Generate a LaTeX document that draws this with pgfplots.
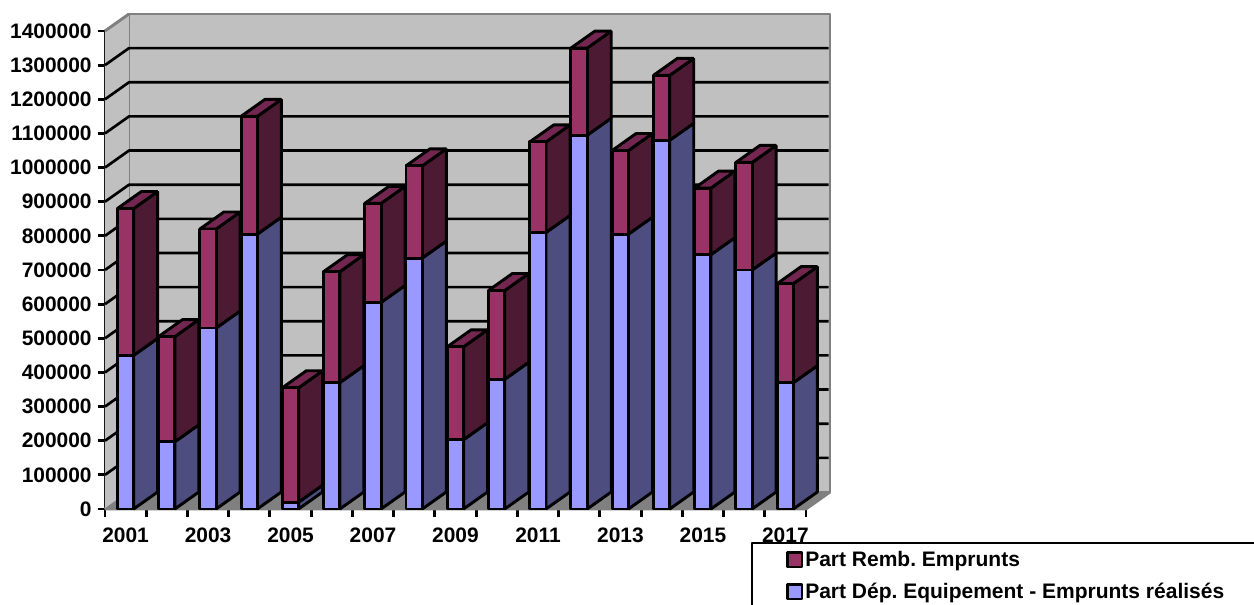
\documentclass[border=0pt]{standalone}
\usepackage{fontspec}
\setmainfont{Liberation Sans}
\usepackage{pgfplots}
\usepackage{pgfplotstable}
\pgfplotsset{compat=1.18}
\frenchspacing

% index, top of lower part, top of stack
\pgfplotstableread{
idx low total
0 450000 880000
1 197000 505000
2 530000 820000
3 805000 1150000
4 20000 355000
5 370000 695000
6 605000 895000
7 735000 1005000
8 203000 475000
9 380000 640000
10 810000 1075000
11 1095000 1350000
12 805000 1050000
13 1080000 1270000
14 745000 940000
15 700000 1015000
16 370000 660000
}\bardata

\definecolor{wall}{HTML}{C0C0C0}
\definecolor{edge}{HTML}{808080}
\definecolor{loF}{HTML}{9999FF}
\definecolor{loS}{HTML}{4D4D80}
\definecolor{upF}{HTML}{993366}
\definecolor{upS}{HTML}{4D1A33}
\definecolor{upT}{HTML}{732650}

\def\depthx{0.582}
\def\depthy{49800}

\begin{document}
\begin{tikzpicture}[x=1pt,y=1pt,line join=bevel]
\clip (0,0) rectangle (940.5,453.75);
\begin{axis}[
  at={(78.75pt,72pt)}, anchor=origin,
  scale only axis, width=525.75pt, height=358.5pt,
  xmin=0, xmax=17, ymin=0, ymax=1400000,
  clip=false,
  axis lines=left,
  axis line style={-, black, line width=2.2pt},
  tick align=outside,
  tick style={black, line width=2.2pt},
  major tick length=5.5pt,
  minor tick length=6pt,
  xtick={0.5,2.5,4.5,6.5,8.5,10.5,12.5,14.5,16.5},
  xticklabels={2001,2003,2005,2007,2009,2011,2013,2015,2017},
  minor xtick={0,1,2,3,4,5,6,7,8,9,10,11,12,13,14,15,16,17},
  x tick style={draw=none},
  minor x tick style={draw=black, line width=2.2pt},
  ytick={0,100000,200000,300000,400000,500000,600000,700000,800000,900000,1000000,1100000,1200000,1300000,1400000},
  scaled y ticks=false,
  tick label style={font=\fontsize{15.7}{18}\selectfont\bfseries},
  /pgf/number format/assume math mode=true,
  yticklabel style={/pgf/number format/fixed,/pgf/number format/1000 sep={},xshift=-1pt},
  xticklabel style={yshift=-5pt},
  legend style={at={(axis cs:16.52,-99590)}, anchor=north west, draw=none, fill=none,
    font=\fontsize{15.75}{18}\selectfont\bfseries, row sep=7pt, inner xsep=0pt, inner ysep=4pt,
    nodes={inner xsep=1.5pt}},
  legend cell align=left,
]
% floor and the two walls
\addplot[forget plot, draw=edge, line width=2.2pt, fill=edge] coordinates {(0,0) (\depthx,\depthy) (17.582,\depthy) (17,0)} -- cycle;
\addplot[forget plot, draw=edge, line width=2.2pt, fill=wall] coordinates {(\depthx,\depthy) (\depthx,1449800) (17.582,1449800) (17.582,\depthy)} -- cycle;
\addplot[forget plot, draw=none, fill=wall] coordinates {(0,0) (0,1400000) (\depthx,1449800) (\depthx,\depthy)} -- cycle;
\addplot[forget plot, draw=edge, line width=2.2pt] coordinates {(0,1400000) (\depthx,1449800)};
\addplot[forget plot, draw=edge, line width=1pt] coordinates {(0,0) (\depthx,\depthy)};
% gridlines on side wall and back wall
\pgfplotsinvokeforeach{1,...,13}{
  \edef\cmd{\noexpand\addplot[forget plot, black, line width=2pt] coordinates {
    (0,\the\numexpr#1*100000\relax)
    (\depthx,\the\numexpr#1*100000+\depthy\relax)
    (17.55,\the\numexpr#1*100000+\depthy\relax)};}
  \cmd
}
% stacked columns, front, side and top faces
\pgfplotsinvokeforeach{0,...,16}{
  \pgfplotstablegetelem{#1}{low}\of\bardata \let\lo\pgfplotsretval
  \pgfplotstablegetelem{#1}{total}\of\bardata \let\hi\pgfplotsretval
  \pgfmathsetmacro\xa{#1+0.30}
  \pgfmathsetmacro\xb{#1+0.695}
  \pgfmathsetmacro\xc{#1+0.695+\depthx}
  \pgfmathsetmacro\xd{#1+0.30+\depthx}
  \edef\loD{\the\numexpr\lo+\depthy\relax}
  \edef\hiD{\the\numexpr\hi+\depthy\relax}
  \edef\cmd{%
    \noexpand\addplot[forget plot, draw=black, line width=2.2pt, fill=loS] coordinates {(\xb,0) (\xc,\depthy) (\xc,\loD) (\xb,\lo)} -- cycle;
    \noexpand\addplot[forget plot, draw=black, line width=2.2pt, fill=upS] coordinates {(\xb,\lo) (\xc,\loD) (\xc,\hiD) (\xb,\hi)} -- cycle;
    \noexpand\addplot[forget plot, draw=black, line width=2.2pt, fill=upT] coordinates {(\xa,\hi) (\xd,\hiD) (\xc,\hiD) (\xb,\hi)} -- cycle;
    \noexpand\addplot[forget plot, draw=black, line width=2.2pt, fill=loF] coordinates {(\xa,0) (\xa,\lo) (\xb,\lo) (\xb,0)} -- cycle;
    \noexpand\addplot[forget plot, draw=black, line width=2.2pt, fill=upF] coordinates {(\xa,\lo) (\xa,\hi) (\xb,\hi) (\xb,\lo)} -- cycle;
  }
  \cmd
}
% legend frame runs past the picture edge
\addplot[forget plot, black, line width=1.6pt] coordinates {(15.69,-300000) (15.69,-99590) (40,-99590)};
\addlegendimage{legend image code/.code={\draw[black, line width=1.6pt, fill=upF] (0pt,-5.5pt) rectangle (11pt,5.5pt);}}
\addlegendentry{Part Remb. Emprunts}
\addlegendimage{legend image code/.code={\draw[black, line width=1.6pt, fill=loF] (0pt,-5.5pt) rectangle (11pt,5.5pt);}}
\addlegendentry{Part Dép. Equipement - Emprunts réalisés}
\end{axis}
\end{tikzpicture}
\end{document}
